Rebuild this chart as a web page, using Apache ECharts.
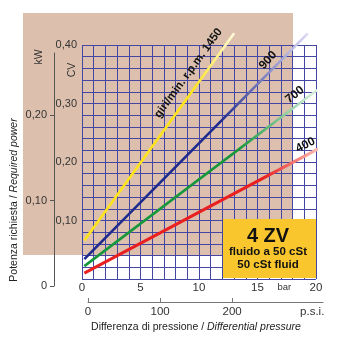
<!DOCTYPE html>
<html><head><meta charset="utf-8">
<script src="https://cdn.jsdelivr.net/npm/echarts@6/dist/echarts.min.js"></script>
<style>html,body{margin:0;padding:0;background:#fff}#c{width:340px;height:340px}</style>
</head><body><div id="c"></div>
<script>
// speed curves (rpm), straight lines read at start and end point: [bar, CV]
const speeds = ['1450', '900', '700', '400'];
const barStart = [0.2, 0.2, 0.2, 0.2];
const cvStart = [0.066, 0.034, 0.022, 0.010];
const barEnd = [13.0, 19.3, 20.1, 20.8];
const cvEnd = [0.42, 0.42, 0.323, 0.229];
// curve labels
const labelText = ['giri/min. r.p.m. 1450', '900', '700', '400'];
const labelBar = [9.1, 15.9, 18.2, 19.1];
const labelCv = [0.352, 0.374, 0.315, 0.229];
const labelAngle = [54, 48, 38, 27];
// axis ticks
const barTicks = [0, 5, 10, 15, 20];
const cvTicks = [0.10, 0.20, 0.30, 0.40];
const kwTicks = [0, 0.10, 0.20];
const psiTicks = [0, 100, 200];

const lineColors = ['#ffe31a', '#1e2a8e', '#17973c', '#ea1f1f'];
const paleColors = ['#fffbe6', '#e2e0f6', '#e4f5e8', '#ffdccf'];
const fadeStart = [0.72, 0.6, 0.66, 0.74];
const gridColor = '#4446a4';
const tan = '#dcc0ad';
const FONT = 'Liberation Sans';

function comma(v) { return v === 0 ? '0' : v.toFixed(2).replace('.', ','); }

const chart = echarts.init(document.getElementById('c'), null, {renderer: 'canvas'});
const option = {
  animation: false,
  textStyle: {fontFamily: FONT},
  grid: [
    {left: 82, top: 45, width: 234, height: 234},
    {left: 54, top: 53, width: 10, height: 233},
    {left: 88, top: 292, width: 235, height: 10}
  ],
  xAxis: [
    {gridIndex: 0, type: 'value', min: 0, max: 20, interval: 1,
     axisLine: {show: false}, axisTick: {show: false},
     splitLine: {show: true, lineStyle: {color: gridColor, width: 1}},
     axisLabel: {customValues: barTicks.concat([17.3]), margin: 3, fontSize: 11.5, color: '#333',
       formatter: v => (Math.abs(v - 17.3) < 1e-6 ? '{u|bar}' : String(v)),
       rich: {u: {fontSize: 9.5, color: '#333'}}}},
    {gridIndex: 1, type: 'value', show: false},
    {gridIndex: 2, type: 'value', min: 0, max: 326,
     axisLine: {show: true, lineStyle: {color: '#777', width: 1}},
     axisTick: {show: true, inside: true, length: 4, customValues: psiTicks, lineStyle: {color: '#777'}},
     splitLine: {show: false},
     axisLabel: {customValues: psiTicks.concat([311]), margin: 4, fontSize: 11.5, color: '#333',
       formatter: v => (v === 311 ? 'p.s.i.' : String(v))}}
  ],
  yAxis: [
    {gridIndex: 0, type: 'value', min: 0, max: 0.4, interval: 0.02,
     axisLine: {show: false}, axisTick: {show: false},
     splitLine: {show: true, lineStyle: {color: gridColor, width: 1}},
     axisLabel: {customValues: cvTicks, margin: 5, fontSize: 11, color: '#333', formatter: comma}},
    {gridIndex: 1, type: 'value', min: 0, max: 0.2725,
     axisLine: {show: true, lineStyle: {color: '#555', width: 1}},
     axisTick: {show: true, length: 4, customValues: kwTicks, lineStyle: {color: '#555'}},
     splitLine: {show: false},
     axisLabel: {customValues: kwTicks, margin: 7, fontSize: 11, color: '#333', formatter: comma}},
    {gridIndex: 2, type: 'value', show: false}
  ],
  series: speeds.map((s, i) => ({
    type: 'line', name: s, xAxisIndex: 0, yAxisIndex: 0,
    data: [[barStart[i], cvStart[i]], [barEnd[i], cvEnd[i]]],
    symbol: 'none', clip: false, silent: true, z: 5,
    lineStyle: {width: i === 3 ? 3 : 2.6,
      color: new echarts.graphic.LinearGradient(0, 0, 1, 0, [
        {offset: 0, color: lineColors[i]},
        {offset: fadeStart[i], color: lineColors[i]},
        {offset: 1, color: paleColors[i]}])}
  }))
};
chart.setOption(option);

const g = [
  {type: 'rect', z: -10, silent: true, shape: {x: 23, y: 13, width: 270, height: 242}, style: {fill: tan}},
  {type: 'rect', z: 100, silent: true, shape: {x: 223, y: 219, width: 93, height: 59}, style: {fill: '#f9c62e'}},
  {type: 'text', z: 101, x: 268, y: 236, style: {text: '4 ZV', font: 'bold 20px ' + FONT, fill: '#111', textAlign: 'center', textVerticalAlign: 'middle'}},
  {type: 'text', z: 101, x: 268, y: 252, style: {text: 'fluido a 50 cSt', font: 'bold 11.5px ' + FONT, fill: '#111', textAlign: 'center', textVerticalAlign: 'middle'}},
  {type: 'text', z: 101, x: 268, y: 265, style: {text: '50 cSt fluid', font: 'bold 11.5px ' + FONT, fill: '#111', textAlign: 'center', textVerticalAlign: 'middle'}},
  {type: 'text', z: 20, x: 72, y: 70, rotation: Math.PI / 2, style: {text: 'CV', font: '10.5px ' + FONT, fill: '#333', textAlign: 'center', textVerticalAlign: 'middle'}},
  {type: 'text', z: 20, x: 39, y: 57, rotation: Math.PI / 2, style: {text: 'kW', font: '10.5px ' + FONT, fill: '#333', textAlign: 'center', textVerticalAlign: 'middle'}},
  {type: 'text', z: 20, x: 14, y: 200, rotation: Math.PI / 2, style: {
    text: '{a|Potenza richiesta / }{b|Required power}', textAlign: 'center', textVerticalAlign: 'middle',
    rich: {a: {fontSize: 10.5, fontFamily: FONT, fill: '#222', color: '#222'}, b: {fontSize: 10.5, fontFamily: FONT, fontStyle: 'italic', fill: '#222', color: '#222'}}}},
  {type: 'text', z: 20, x: 196, y: 327, style: {
    text: '{a|Differenza di pressione / }{b|Differential pressure}', textAlign: 'center', textVerticalAlign: 'middle',
    rich: {a: {fontSize: 10.5, fontFamily: FONT, fill: '#222', color: '#222'}, b: {fontSize: 10.5, fontFamily: FONT, fontStyle: 'italic', fill: '#222', color: '#222'}}}}
];
labelText.forEach((t, i) => {
  const p = chart.convertToPixel({gridIndex: 0}, [labelBar[i], labelCv[i]]);
  g.push({type: 'text', z: 30, x: p[0], y: p[1], rotation: labelAngle[i] * Math.PI / 180,
    style: {text: t, font: 'bold ' + (i === 0 ? 11.5 : 12) + 'px ' + FONT, fill: '#111', textAlign: 'center', textVerticalAlign: 'middle'}});
});
chart.setOption({graphic: g});
</script>
</body></html>
